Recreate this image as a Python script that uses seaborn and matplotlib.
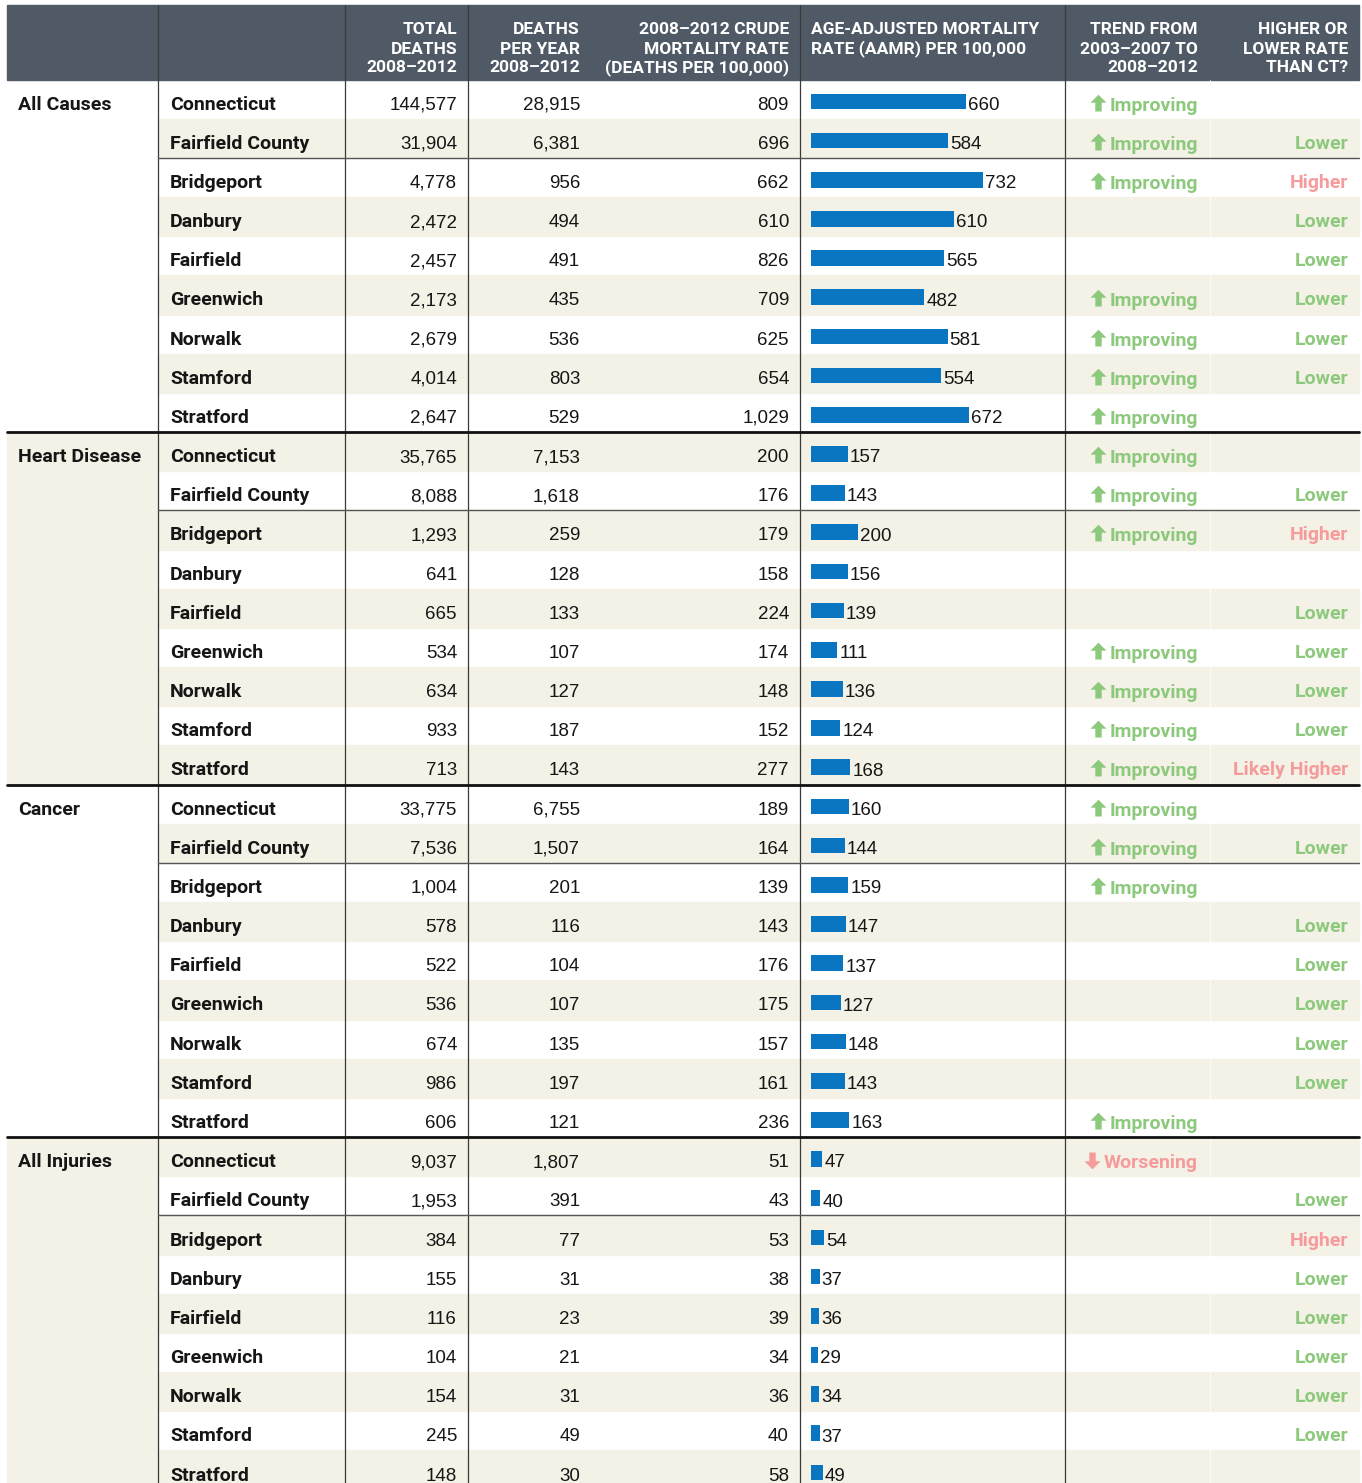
import numpy as np
import matplotlib
matplotlib.use("Agg")
import matplotlib.pyplot as plt
import seaborn as sns
from matplotlib.patches import Rectangle
from matplotlib.path import Path
from matplotlib import font_manager

# ---------------- data ----------------
groups = ["All Causes", "Heart Disease", "Cancer", "All Injuries"]
places = ["Connecticut", "Fairfield County", "Bridgeport", "Danbury", "Fairfield",
          "Greenwich", "Norwalk", "Stamford", "Stratford"]

total_deaths = [144577, 31904, 4778, 2472, 2457, 2173, 2679, 4014, 2647,
                35765, 8088, 1293, 641, 665, 534, 634, 933, 713,
                33775, 7536, 1004, 578, 522, 536, 674, 986, 606,
                9037, 1953, 384, 155, 116, 104, 154, 245, 148]
deaths_per_year = [28915, 6381, 956, 494, 491, 435, 536, 803, 529,
                   7153, 1618, 259, 128, 133, 107, 127, 187, 143,
                   6755, 1507, 201, 116, 104, 107, 135, 197, 121,
                   1807, 391, 77, 31, 23, 21, 31, 49, 30]
crude_rate = [809, 696, 662, 610, 826, 709, 625, 654, 1029,
              200, 176, 179, 158, 224, 174, 148, 152, 277,
              189, 164, 139, 143, 176, 175, 157, 161, 236,
              51, 43, 53, 38, 39, 34, 36, 40, 58]
aamr = [660, 584, 732, 610, 565, 482, 581, 554, 672,
        157, 143, 200, 156, 139, 111, 136, 124, 168,
        160, 144, 159, 147, 137, 127, 148, 143, 163,
        47, 40, 54, 37, 36, 29, 34, 37, 49]
trend = ["Improving", "Improving", "Improving", "", "", "Improving", "Improving", "Improving", "Improving",
         "Improving", "Improving", "Improving", "", "", "Improving", "Improving", "Improving", "Improving",
         "Improving", "Improving", "Improving", "", "", "", "", "", "Improving",
         "Worsening", "", "", "", "", "", "", "", ""]
vs_ct = ["", "Lower", "Higher", "Lower", "Lower", "Lower", "Lower", "Lower", "",
         "", "Lower", "Higher", "", "Lower", "Lower", "Lower", "Lower", "Likely Higher",
         "", "Lower", "", "Lower", "Lower", "Lower", "Lower", "Lower", "",
         "", "Lower", "Higher", "Lower", "Lower", "Lower", "Lower", "Lower", ""]

hdr_total = ["TOTAL", "DEATHS", "2008–2012"]
hdr_peryear = ["DEATHS", "PER YEAR", "2008–2012"]
hdr_crude = ["2008–2012 CRUDE", "MORTALITY RATE", "(DEATHS PER 100,000)"]
hdr_aamr = ["AGE-ADJUSTED MORTALITY", "RATE (AAMR) PER 100,000"]
hdr_trend = ["TREND FROM", "2003–2007 TO", "2008–2012"]
hdr_vs = ["HIGHER OR", "LOWER RATE", "THAN CT?"]

# ---------------- style ----------------
sns.set_theme(style="white")
avail = {f.name for f in font_manager.fontManager.ttflist}
NARROW = "Liberation Sans Narrow" if "Liberation Sans Narrow" in avail else "Roboto"
REG = "Liberation Sans" if "Liberation Sans" in avail else "DejaVu Sans"
plt.rcParams["font.family"] = [NARROW, "DejaVu Sans"]

HEADER = "#505a67"
BEIGE = "#f4f1e6"
BLUE = "#0a76c1"
GREEN = "#8dc97d"
PINK = "#f59b9b"
TXT = "#161616"
LINE = "#3a3a3a"

W, H = 1362, 1483
fig = plt.figure(figsize=(W / 100, H / 100), dpi=100)
ax = fig.add_axes([0, 0, 1, 1])
ax.set_xlim(0, W)
ax.set_ylim(H, 0)
ax.axis("off")

ROW0, RH = 79.5, 39.17
n = len(aamr)
def top(i):
    return ROW0 + RH * i
def mid(i):
    return top(i) + RH / 2

L, R = 7, 1359
XG, XP = 158, 345

# header
ax.add_patch(Rectangle((L, 5), R - L, ROW0 - 5, color=HEADER, zorder=0))

# stripes
for i in range(n):
    if i % 2 == 1:
        ax.add_patch(Rectangle((XG, top(i)), R - XG, RH, color=BEIGE, zorder=0))
for g in range(len(groups)):
    if g % 2 == 1:
        ax.add_patch(Rectangle((L, top(9 * g)), XG - L, 9 * RH, color=BEIGE, zorder=0))

# faint white seam in last column block
ax.plot([1210, 1210], [ROW0, H], color="white", lw=0.6, zorder=1)

# vertical lines
for x in [XG, XP, 468, 800, 1065]:
    ax.plot([x, x], [5, H], color=LINE, lw=0.9, zorder=3)

# horizontal lines
for g in range(len(groups)):
    if g > 0:
        ax.plot([L, R], [top(9 * g), top(9 * g)], color="#111111", lw=2.0, zorder=4)
    ax.plot([XG, R], [top(9 * g + 2), top(9 * g + 2)], color="#555555", lw=1.0, zorder=4)

# header text
HB = [34.5, 53.5, 72.5]
hfs = 12.5
def hdr(lines, x, ha):
    for k, t in enumerate(lines):
        ax.text(x, HB[k], t, ha=ha, va="baseline", color="white", fontsize=hfs,
                fontweight="bold", family=[NARROW, "DejaVu Sans"], zorder=5)
hdr(hdr_total, 457, "right")
hdr(hdr_peryear, 580, "right")
hdr(hdr_crude, 789, "right")
hdr(hdr_aamr, 811, "left")
hdr(hdr_trend, 1198, "right")
hdr(hdr_vs, 1348, "right")

# body text
fs = 14
OFF = 10.5
for g, name in enumerate(groups):
    ax.text(18, mid(9 * g) + OFF, name, ha="left", va="baseline", fontsize=fs,
            fontweight="bold", color=TXT, zorder=5)

trend_texts = []
for i in range(n):
    y = mid(i) + OFF
    ax.text(170, y, places[i % 9], ha="left", va="baseline", fontsize=fs,
            fontweight="bold", color=TXT, zorder=5)
    ax.text(457, y, f"{total_deaths[i]:,}", ha="right", va="baseline", fontsize=fs - 0.5,
            family=[REG], color=TXT, zorder=5)
    ax.text(580, y, f"{deaths_per_year[i]:,}", ha="right", va="baseline", fontsize=fs - 0.5,
            family=[REG], color=TXT, zorder=5)
    ax.text(789, y, f"{crude_rate[i]:,}", ha="right", va="baseline", fontsize=fs - 0.5,
            family=[REG], color=TXT, zorder=5)
    if trend[i]:
        c = GREEN if trend[i] == "Improving" else PINK
        t = ax.text(1198, y + 1, trend[i], ha="right", va="baseline", fontsize=fs,
                    fontweight="bold", color=c, zorder=5)
        trend_texts.append((i, t, c))
    if vs_ct[i]:
        c = GREEN if vs_ct[i] == "Lower" else PINK
        ax.text(1348, y, vs_ct[i], ha="right", va="baseline", fontsize=fs,
                fontweight="bold", color=c, zorder=5)

# arrows next to trend text
up = Path([(-0.5, 0.05), (0.0, 0.55), (0.5, 0.05), (0.2, 0.05), (0.2, -0.5),
           (-0.2, -0.5), (-0.2, 0.05), (-0.5, 0.05)], closed=True)
down = Path([(x, -y) for x, y in up.vertices], closed=True)
fig.canvas.draw()
inv = ax.transData.inverted()
for i, t, c in trend_texts:
    bb = t.get_window_extent()
    x0 = inv.transform((bb.x0, bb.y0))[0]
    mk = up if trend[i] == "Improving" else down
    ax.scatter([x0 - 12], [mid(i) + 3.5], marker=mk, s=160, color=c, linewidths=0, zorder=6)

# bars
bax = fig.add_axes([811 / W, 0, 254 / W, (H - ROW0) / H])
pos = np.arange(n) + 0.06
sns.barplot(x=aamr, y=pos, orient="h", native_scale=True, color=BLUE, saturation=1,
            width=0.4, errorbar=None, linewidth=0, ax=bax)
bax.set_xlim(0, 254 / 0.235)
bax.set_ylim((H - ROW0) / RH - 0.5, -0.5)
bax.axis("off")
bax.patch.set_alpha(0)
anns = bax.bar_label(bax.containers[0], labels=[str(v) for v in aamr], padding=2,
                     fontsize=fs - 0.5, family=[REG], color=TXT)
for a in anns:
    a.set_verticalalignment("baseline")
    a.xyann = (1.5, -6.0)

fig.savefig("out.png", dpi=100)
